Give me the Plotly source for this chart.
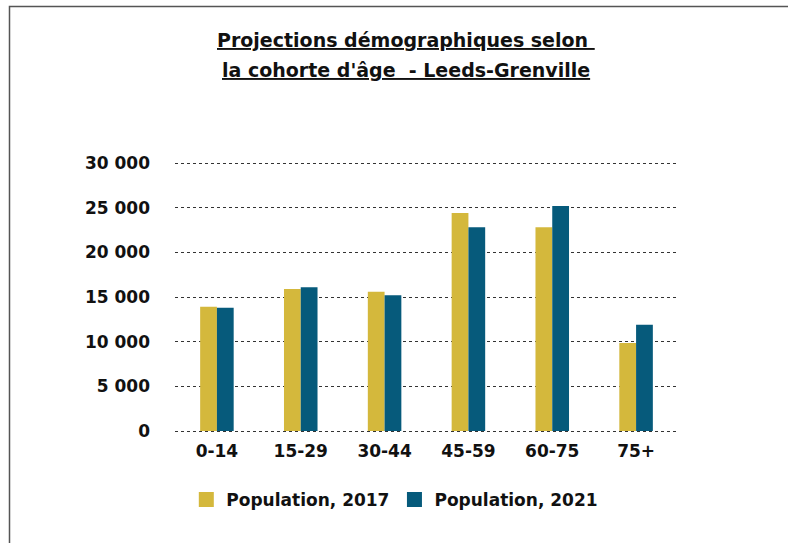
import plotly.graph_objects as go

categories = ["0-14", "15-29", "30-44", "45-59", "60-75", "75+"]
pop_2017 = [13900, 15900, 15600, 24400, 22800, 9850]
pop_2021 = [13800, 16100, 15200, 22800, 25200, 11900]
series_names = ["Population, 2017", "Population, 2021"]
series_colors = ["#D4B83C", "#065A7B"]
title_lines = ["Projections démographiques selon ", "la cohorte d'âge  - Leeds-Grenville"]

FONT = "DejaVu Sans"
L, R, T, B = 175, 110, 161, 110
W, H = 788, 543
pw, ph = W - L - R, H - T - B

fig = go.Figure()
for vals, name, col in zip([pop_2017, pop_2021], series_names, series_colors):
    fig.add_trace(go.Bar(x=categories, y=vals, name=name, showlegend=False,
                         marker=dict(color=col, line=dict(width=0))))
# legend proxies (larger square swatches)
for name, col in zip(series_names, series_colors):
    fig.add_trace(go.Scatter(x=[None], y=[None], name=name, mode="markers",
                             marker=dict(symbol="square", size=15, color=col)))

def px_x(p):
    return (p - L) / pw

def px_y(p):
    return (H - B - p) / ph

tick_font = dict(family=FONT, size=17, color="#111111", weight="bold")

fig.update_layout(
    width=W, height=H,
    margin=dict(l=L, r=R, t=T, b=B),
    paper_bgcolor="white", plot_bgcolor="white",
    separators=". ",
    barmode="group", bargap=0.6, bargroupgap=0,
    font=dict(family=FONT, size=16, color="#111111"),
    xaxis=dict(type="category", showgrid=False, showline=False, zeroline=False, ticks="",
               tickfont=tick_font, ticklabelstandoff=6),
    yaxis=dict(range=[-224, 30224], tickvals=[0, 5000, 10000, 15000, 20000, 25000, 30000],
               tickformat=",d",
               showgrid=True, gridcolor="#333333", griddash="dot", gridwidth=1,
               zeroline=False, showline=False, ticks="",
               tickfont=tick_font, ticklabelstandoff=24),
    legend=dict(orientation="h", x=0.437, xanchor="center", y=px_y(500), yanchor="middle",
                font=tick_font, itemwidth=30, tracegroupgap=0, traceorder="normal"),
    showlegend=True,
)

for i, line in enumerate(title_lines):
    fig.add_annotation(text=line, xref="paper", yref="paper",
                       x=px_x(406), y=px_y(40 + 30 * i), xanchor="center", yanchor="middle",
                       showarrow=False,
                       font=dict(family=FONT, size=19, color="#111111", weight="bold",
                                 lineposition="under"))

fig.add_shape(type="rect", xref="paper", yref="paper",
              x0=px_x(9.5), x1=px_x(830), y0=px_y(6.5), y1=px_y(600),
              line=dict(color="#555555", width=1.5), fillcolor="rgba(0,0,0,0)", layer="below")

fig.write_html("out.html")
